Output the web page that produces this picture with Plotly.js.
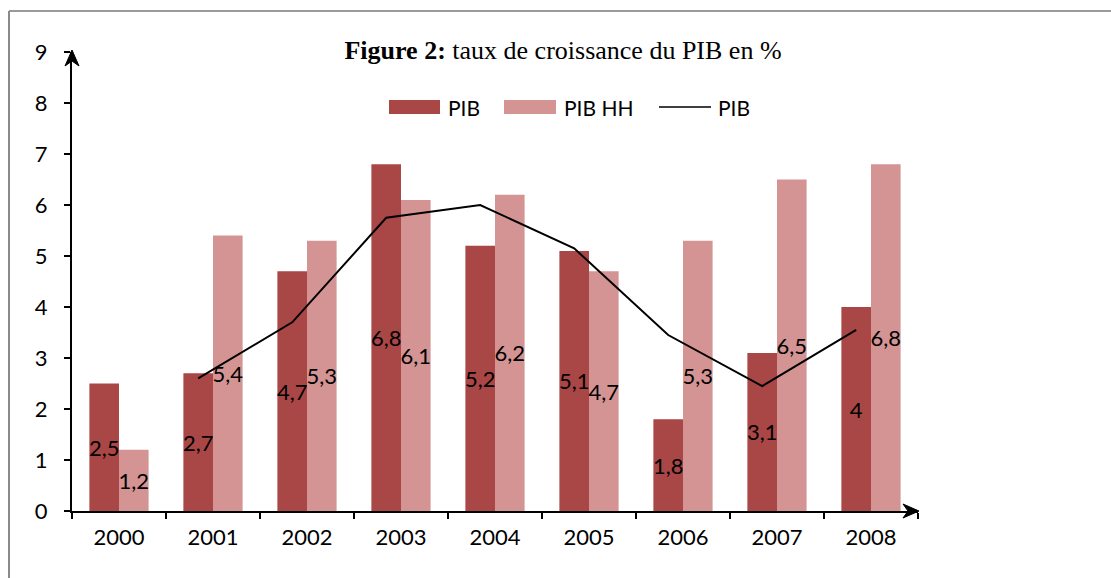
<!DOCTYPE html>
<html>
<head>
<meta charset="utf-8">
<script src="https://cdn.plot.ly/plotly-3.0.1.min.js"></script>
<style>
html,body{margin:0;padding:0;background:#fff;}
#chart{width:1111px;height:578px;}
</style>
</head>
<body>
<div id="chart"></div>
<script>
// ---- data ----
const years = ['2000','2001','2002','2003','2004','2005','2006','2007','2008'];
const pib = [2.5, 2.7, 4.7, 6.8, 5.2, 5.1, 1.8, 3.1, 4];
const pibHH = [1.2, 5.4, 5.3, 6.1, 6.2, 4.7, 5.3, 6.5, 6.8];
const lineYears = ['2001','2002','2003','2004','2005','2006','2007','2008'];
const pibLine = [2.6, 3.7, 5.75, 6.0, 5.15, 3.45, 2.45, 3.55];
const yTicks = [0,1,2,3,4,5,6,7,8,9];

const fmt = v => String(v).replace('.', ',');

// ---- geometry helpers (layout only) ----
const L = 72, R = 918, T = 52, B = 511, W = 1111, H = 578;
const px = x => (x - L) / (R - L);
const py = y => (B - y) / (B - T);
const pathOf = pts => 'M' + pts.map(p => px(p[0]) + ',' + py(p[1])).join('L') + 'Z';

const labelFont = {family: 'Lato, "Open Sans", sans-serif', size: 22, color: '#000'};

const traces = [
  {
    type: 'bar', name: 'PIB', x: years, y: pib,
    marker: {color: '#A94646'},
    text: pib.map(fmt), textposition: 'inside', insidetextanchor: 'middle',
    textangle: 0, constraintext: 'none', insidetextfont: labelFont,
    cliponaxis: false, showlegend: false, hoverinfo: 'x+y'
  },
  {
    type: 'bar', name: 'PIB HH', x: years, y: pibHH,
    marker: {color: '#D49494'},
    text: pibHH.map(fmt), textposition: 'inside', insidetextanchor: 'middle',
    textangle: 0, constraintext: 'none', insidetextfont: labelFont,
    cliponaxis: false, showlegend: false, hoverinfo: 'x+y'
  },
  {
    type: 'scatter', mode: 'lines', name: 'PIB', x: lineYears, y: pibLine,
    xaxis: 'x2', yaxis: 'y',
    line: {color: '#000', width: 2}, showlegend: false
  }
];

const barOffset = 0.1575; // PIB bar centre relative to category centre

const shapes = [
  // outer frame (top and left)
  {type: 'line', xref: 'paper', yref: 'paper', x0: px(9), x1: px(W + 5), y0: py(11), y1: py(11), line: {color: '#9a9a9a', width: 2}},
  {type: 'line', xref: 'paper', yref: 'paper', x0: px(9), x1: px(9), y0: py(11), y1: py(H + 5), line: {color: '#8a8a8a', width: 2}},
  // legend symbols
  {type: 'rect', xref: 'paper', yref: 'paper', x0: px(389), x1: px(440), y0: py(100), y1: py(114), fillcolor: '#A94646', line: {width: 0}},
  {type: 'rect', xref: 'paper', yref: 'paper', x0: px(504), x1: px(556), y0: py(100), y1: py(114), fillcolor: '#D49494', line: {width: 0}},
  {type: 'line', xref: 'paper', yref: 'paper', x0: px(659), x1: px(711), y0: py(107), y1: py(107), line: {color: '#000', width: 1.5}},
  // axis arrowheads
  {type: 'path', xref: 'paper', yref: 'paper', path: pathOf([[72,50],[79,66],[72,61],[65,66]]), fillcolor: '#000', line: {color: '#000', width: 1}},
  {type: 'path', xref: 'paper', yref: 'paper', path: pathOf([[919,511],[903,504],[908,511],[903,518]]), fillcolor: '#000', line: {color: '#000', width: 1}}
];

const legendFont = {family: 'Lato, "Open Sans", sans-serif', size: 21, color: '#000'};
const annotations = [
  {xref: 'paper', yref: 'paper', x: px(446), y: py(107), text: 'PIB', showarrow: false, xanchor: 'left', yanchor: 'middle', font: legendFont},
  {xref: 'paper', yref: 'paper', x: px(562), y: py(107), text: 'PIB HH', showarrow: false, xanchor: 'left', yanchor: 'middle', font: legendFont},
  {xref: 'paper', yref: 'paper', x: px(716), y: py(107), text: 'PIB', showarrow: false, xanchor: 'left', yanchor: 'middle', font: legendFont}
];

const layout = {
  width: W, height: H,
  margin: {l: L, r: W - R, t: T, b: H - B, pad: 0},
  paper_bgcolor: '#fff', plot_bgcolor: '#fff',
  separators: ', ',
  barmode: 'group', bargap: 0.37, bargroupgap: 0,
  showlegend: false,
  title: {
    text: '<b>Figure 2:</b> taux de croissance du PIB en %',
    font: {family: '"Liberation Serif", "Times New Roman", serif', size: 26, color: '#000'},
    xref: 'paper', x: px(563), xanchor: 'center',
    yref: 'container', y: 1 - 50 / H, yanchor: 'middle'
  },
  xaxis: {
    type: 'category', range: [-0.5, 8.5],
    showline: true, linecolor: '#000', linewidth: 2,
    ticks: 'outside', tickson: 'boundaries', ticklen: 6, tickwidth: 2, tickcolor: '#000',
    showgrid: false, zeroline: false,
    tickfont: labelFont, ticklabelstandoff: 6, fixedrange: true
  },
  xaxis2: {
    type: 'category', overlaying: 'x', range: [-0.5 + barOffset, 8.5 + barOffset],
    visible: false, showgrid: false, zeroline: false, categoryorder: 'array', categoryarray: years
  },
  yaxis: {
    range: [0, 9], tickvals: yTicks, ticktext: yTicks.map(String),
    showline: true, linecolor: '#000', linewidth: 2,
    ticks: 'outside', ticklen: 6, tickwidth: 2, tickcolor: '#000',
    showgrid: false, zeroline: false,
    tickfont: labelFont, ticklabelstandoff: 12, fixedrange: true
  },
  shapes: shapes,
  annotations: annotations
};

Plotly.newPlot('chart', traces, layout, {displayModeBar: false, staticPlot: true});
</script>
</body>
</html>
